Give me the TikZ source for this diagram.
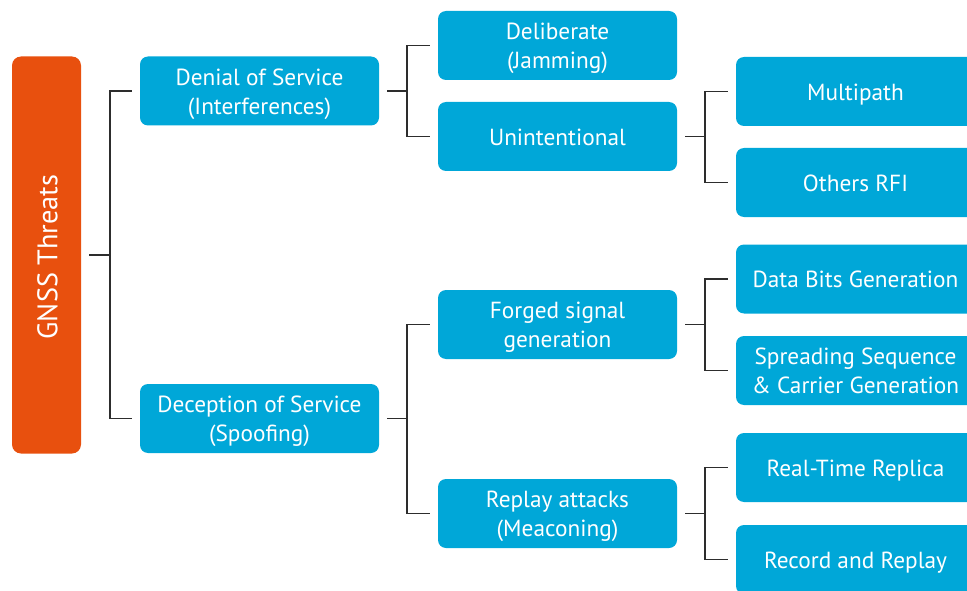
\documentclass[tikz,border=0pt]{standalone}
\usepackage{fontspec}
\setmainfont{PT Sans}
\definecolor{boxblue}{RGB}{0,167,216}
\definecolor{boxorange}{RGB}{232,80,14}
\definecolor{linegray}{RGB}{45,45,45}
\newcommand\bt[1]{\raisebox{-3pt}[\height][\depth]{\begin{tabular}{@{}c@{}}#1\end{tabular}}}
\begin{document}
\begin{tikzpicture}[x=1pt,y=-1pt,
  bluebox/.style={fill=boxblue, rounded corners=8pt, minimum width=239pt, minimum height=69pt, inner sep=0pt, text=white, font=\fontsize{23.3}{29}\selectfont},
  orangebox/.style={fill=boxorange, rounded corners=9pt, minimum width=69pt, minimum height=397pt, inner sep=0pt},
  conn/.style={draw=linegray, line width=1.8pt}]
\useasboundingbox (0,0) rectangle (967,591);
\node[orangebox] (gnss) at (46.5,255) {};
\node[text=white, rotate=90, inner sep=0pt, font=\fontsize{28.3}{32}\selectfont] (gnsstext) at (47.5,257) {GNSS Threats};
\node[bluebox] (dos) at (259.5,91) {\bt{Denial of Service\\(Interferences)}};
\node[bluebox] (dec) at (259.5,418.5) {\bt{Deception of Service\\(Spoofing)}};
\node[bluebox] (delib) at (557.5,45.5) {\bt{Deliberate\\(Jamming)}};
\node[bluebox] (unint) at (557.5,136.5) {\bt{Unintentional}};
\node[bluebox] (forged) at (557.5,324.5) {\bt{Forged signal\\generation}};
\node[bluebox] (replay) at (557.5,513.5) {\bt{Replay attacks\\(Meaconing)}};
\node[bluebox] (multi) at (855.5,91.5) {\bt{Multipath}};
\node[bluebox] (others) at (855.5,182.5) {\bt{Others RFI}};
\node[bluebox] (databits) at (855.5,279) {\bt{Data Bits Generation}};
\node[bluebox] (spread) at (855.5,370.5) {\bt{Spreading Sequence\\\&~Carrier Generation}};
\node[bluebox] (realtime) at (855.5,467.5) {\bt{Real-Time Replica}};
\node[bluebox] (record) at (855.5,559.5) {\bt{Record and Replay}};
% connectors
\draw[conn] ([xshift=8pt]gnss.east) -- ++(21,0) coordinate (b0);
\draw[conn] ([xshift=-8pt]dos.west) -| (b0) |- ([xshift=-8pt]dec.west);
\draw[conn] ([xshift=8pt]dos.east) -- ++(20,0) coordinate (b1);
\draw[conn] ([xshift=-8pt]delib.west) -| (b1) |- ([xshift=-8pt]unint.west);
\draw[conn] ([xshift=8pt]dec.east) -- ++(20,0) coordinate (b2);
\draw[conn] ([xshift=-8pt]forged.west) -| (b2) |- ([xshift=-8pt]replay.west);
\draw[conn] ([xshift=8pt]unint.east) -- ++(20,0) coordinate (b3);
\draw[conn] ([xshift=-8pt]multi.west) -| (b3) |- ([xshift=-8pt]others.west);
\draw[conn] ([xshift=8pt]forged.east) -- ++(20,0) coordinate (b4);
\draw[conn] ([xshift=-8pt]databits.west) -| (b4) |- ([xshift=-8pt]spread.west);
\draw[conn] ([xshift=8pt]replay.east) -- ++(20,0) coordinate (b5);
\draw[conn] ([xshift=-8pt]realtime.west) -| (b5) |- ([xshift=-8pt]record.west);
\end{tikzpicture}
\end{document}
